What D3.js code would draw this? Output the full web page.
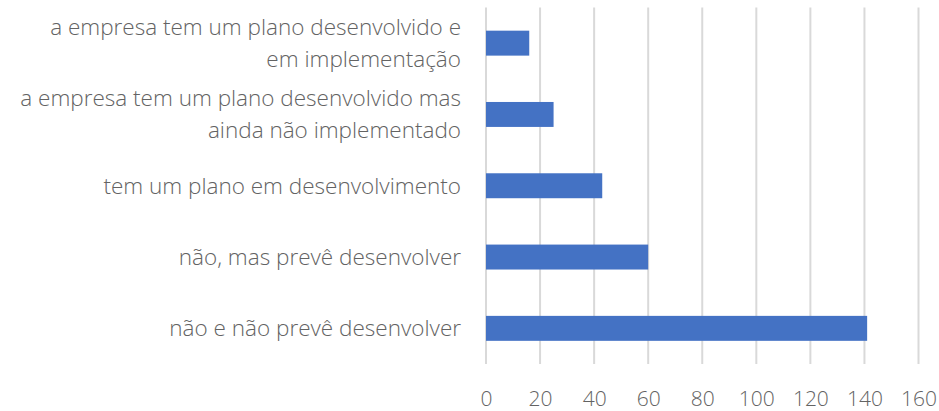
<!DOCTYPE html>
<html>
<head>
<meta charset="utf-8">
<script src="https://cdn.jsdelivr.net/npm/d3@7"></script>
<style>
  html, body { margin: 0; padding: 0; background: #fff; }
  svg text { font-family: "Open Sans", "Noto Sans", sans-serif; font-weight: 300; fill: #636363; }
</style>
</head>
<body>
<svg id="chart" width="939" height="411"></svg>
<script>
const categories = [
  ["a empresa tem um plano desenvolvido e", "em implementação"],
  ["a empresa tem um plano desenvolvido mas", "ainda não implementado"],
  ["tem um plano em desenvolvimento"],
  ["não, mas prevê desenvolver"],
  ["não e não prevê desenvolver"]
];
const values = [16, 25, 43, 60, 141];
const xTicks = [0, 20, 40, 60, 80, 100, 120, 140, 160];

(function () {
const svg = d3.select("#chart");
const pLeft = 486, pRight = 918.5, pTop = 7.5, pBottom = 364;

const x = d3.scaleLinear().domain([0, 160]).range([pLeft, pRight]);
const y = d3.scaleBand().domain(d3.range(categories.length)).range([pTop, pBottom]).paddingInner(0.65).paddingOuter(0.325);

// gridlines
svg.append("g").selectAll("line").data(xTicks).join("line")
  .attr("x1", d => x(d)).attr("x2", d => x(d))
  .attr("y1", pTop).attr("y2", pBottom)
  .attr("stroke", "#d9d9d9").attr("stroke-width", 2);

// bars
svg.append("g").selectAll("rect").data(values).join("rect")
  .attr("x", x(0)).attr("y", (d, i) => y(i))
  .attr("width", d => x(d) - x(0)).attr("height", y.bandwidth())
  .attr("fill", "#4472C4");

// x tick labels
const xAxis = d3.axisBottom(x).tickValues(xTicks).tickSize(0).tickPadding(0);
const gx = svg.append("g").attr("transform", "translate(0, 406)").call(xAxis);
gx.select(".domain").remove();
gx.attr("font-family", null).attr("font-size", null);
gx.selectAll("text").attr("dy", 0).attr("fill", null).style("font-size", "21px");

// category labels
const fs = 22.5, lh = 32;
const lg = svg.append("g");
categories.forEach((lines, i) => {
  const cy = y(i) + y.bandwidth() / 2;
  const t = lg.append("text").attr("text-anchor", "end").style("font-size", fs + "px");
  const n = lines.length;
  lines.forEach((ln, j) => {
    t.append("tspan").attr("x", 461)
      .attr("y", cy + (j - (n - 1) / 2) * lh)
      .attr("dy", "0.35em")
      .text(ln);
  });
});
})();
</script>
</body>
</html>
